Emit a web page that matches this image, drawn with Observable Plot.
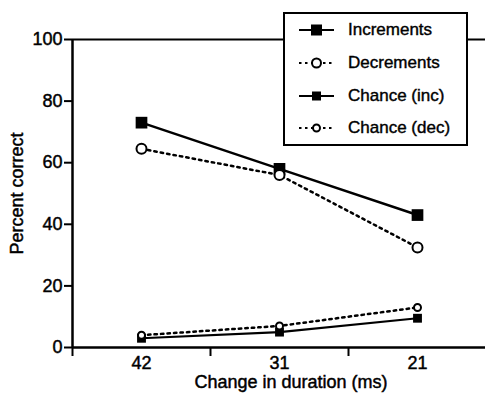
<!DOCTYPE html>
<html>
<head>
<meta charset="utf-8">
<script src="https://cdn.jsdelivr.net/npm/d3@7"></script>
<script src="https://cdn.jsdelivr.net/npm/@observablehq/plot@0.6"></script>
<style>
  html, body { margin: 0; padding: 0; background: #fff; }
  #wrap { position: relative; width: 485px; height: 397px; font-family: "Liberation Sans", Arial, sans-serif; }
  #wrap svg text { stroke: #000; stroke-width: 0.45px; }
  #legend { position: absolute; left: 283px; top: 12px; width: 181px; height: 130px; border: 2px solid #000; background: #fff; }
  .row { position: absolute; left: 0; height: 30px; display: flex; align-items: center; }
  .row svg { margin-left: 14px; margin-right: 14px; }
  .row span { font-size: 17px; color: #000; -webkit-text-stroke: 0.4px #000; }
</style>
</head>
<body>
<div id="wrap"></div>
<script>
const categories = ["42", "31", "21"];
const increments = [73, 58, 43];
const decrements = [64.5, 56, 32.5];
const chanceInc = [3, 5, 9.5];
const chanceDec = [4, 7, 13];
const yTicks = [0, 20, 40, 60, 80, 100];
const seriesNames = ["Increments", "Decrements", "Chance (inc)", "Chance (dec)"];

const toRows = (vals) => vals.map((v, i) => ({x: i, y: v}));
const inc = toRows(increments), dec = toRows(decrements), cinc = toRows(chanceInc), cdec = toRows(chanceDec);

const chart = Plot.plot({
  width: 485,
  height: 397,
  marginLeft: 72,
  marginRight: 0,
  marginTop: 39,
  marginBottom: 50,
  style: {fontFamily: "Liberation Sans, Arial, sans-serif", fontSize: "17px", color: "#000", background: "#fff"},
  x: {domain: [-0.5, 2.5], range: [72, 486]},
  y: {domain: [0, 100]},
  marks: [
    Plot.ruleY([100], {strokeWidth: 2}),
    Plot.ruleY([0], {strokeWidth: 2.5}),
    Plot.ruleX([-0.5], {y1: 0, y2: 100, strokeWidth: 2.5}),
    Plot.axisY({ticks: yTicks, tickSize: 8, tickPadding: 2, strokeWidth: 2, fontSize: 18,
      label: "Percent correct", labelAnchor: "center", labelArrow: "none", labelOffset: 62}),
    Plot.axisX({ticks: [-0.5, 0.5, 1.5], tickSize: 9, strokeWidth: 2, tickFormat: () => "", label: null}),
    Plot.axisX({ticks: [0, 1, 2], tickSize: 0, tickPadding: 9, fontSize: 18,
      tickFormat: (i) => categories[i], label: null}),
    Plot.text(["Change in duration (ms)"], {frameAnchor: "bottom", dx: 12, dy: 35, fontSize: 18, lineAnchor: "middle"}),
    Plot.line(cdec, {x: "x", y: "y", strokeWidth: 2.5, strokeDasharray: "2.5,4"}),
    Plot.line(cinc, {x: "x", y: "y", strokeWidth: 2.2}),
    Plot.line(dec, {x: "x", y: "y", strokeWidth: 2.5, strokeDasharray: "2.5,4"}),
    Plot.line(inc, {x: "x", y: "y", strokeWidth: 2.5}),
    Plot.dot(cinc, {x: "x", y: "y", symbol: "square", r: 5, fill: "#000"}),
    Plot.dot(cdec, {x: "x", y: "y", r: 3.5, fill: "#fff", stroke: "#000", strokeWidth: 2}),
    Plot.dot(inc, {x: "x", y: "y", symbol: "square", r: 6.6, fill: "#000"}),
    Plot.dot(dec, {x: "x", y: "y", r: 5, fill: "#fff", stroke: "#000", strokeWidth: 2})
  ]
});

const wrap = document.getElementById("wrap");
wrap.appendChild(chart);

// legend
const legend = document.createElement("div");
legend.id = "legend";
const swatches = [
  {dash: null, sym: "sq", size: 11},
  {dash: "2.5,3.5", sym: "ci", size: 4.5},
  {dash: null, sym: "sq", size: 9},
  {dash: "2.5,3.5", sym: "ci", size: 3.5}
];
const rowTops = [1, 34, 67, 99];
seriesNames.forEach((name, i) => {
  const s = swatches[i];
  const row = document.createElement("div");
  row.className = "row";
  row.style.top = rowTops[i] + "px";
  const line = `<line x1="0" x2="35" y1="10" y2="10" stroke="#000" stroke-width="2.2" ${s.dash ? `stroke-dasharray="${s.dash}"` : ""}/>`;
  const mark = s.sym === "sq"
    ? `<rect x="${17.5 - s.size / 2}" y="${10 - s.size / 2}" width="${s.size}" height="${s.size}" fill="#000"/>`
    : `<circle cx="17.5" cy="10" r="${s.size}" fill="#fff" stroke="#000" stroke-width="2"/>`;
  row.innerHTML = `<svg width="35" height="20">${line}${mark}</svg><span>${name}</span>`;
  legend.appendChild(row);
});
wrap.appendChild(legend);
</script>
</body>
</html>
